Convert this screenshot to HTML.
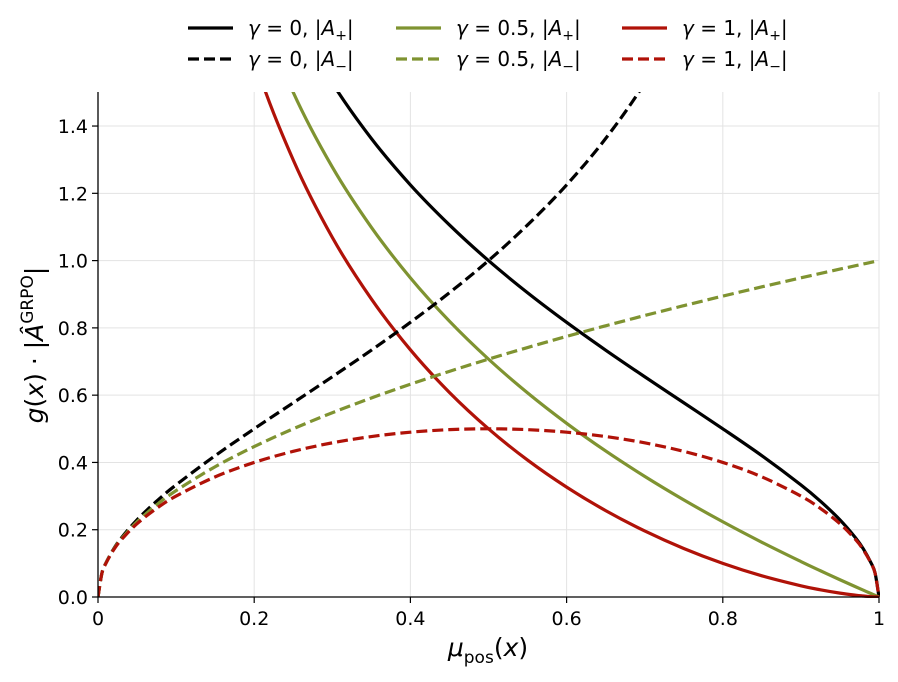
<!DOCTYPE html>
<html><head><meta charset="utf-8"><style>
body{margin:0;background:#fff}
svg{font-family:"DejaVu Sans","Liberation Sans",sans-serif}
</style></head><body>
<svg id="chart" width="898" height="677" viewBox="0 0 898 677" xmlns="http://www.w3.org/2000/svg">
<defs><clipPath id="clip"><rect x="98" y="92" width="782" height="506"/></clipPath></defs>
<g id="grid"></g>
<g id="series" clip-path="url(#clip)"></g>
<g id="axes"></g>
<g id="legend"></g>
<text x="488" y="656" text-anchor="middle" font-size="25"><tspan font-style="italic">μ</tspan><tspan font-size="17" dy="7">pos</tspan><tspan dy="-7">(</tspan><tspan font-style="italic">x</tspan>)</text>
<text transform="translate(43,345) rotate(-90)" text-anchor="middle" font-size="25"><tspan font-style="italic">g</tspan>(<tspan font-style="italic">x</tspan>) · |<tspan font-style="italic">Â</tspan><tspan font-size="17" dy="-10">GRPO</tspan><tspan dy="10">|</tspan></text>
</svg>
<script>
const xs=[0,0.005,0.01,0.02,0.03,0.05,0.075,0.1,0.15,0.2,0.25,0.3,0.35,0.4,0.45,0.5,0.55,0.6,0.65,0.7,0.75,0.8,0.85,0.9,0.925,0.95,0.97,0.98,0.99,0.995,1];
const g0Pos=[null,14.1,9.95,7.0,5.69,4.36,3.51,3.0,2.381,2.0,1.732,1.528,1.363,1.225,1.106,1,0.9045,0.8165,0.7338,0.6547,0.5774,0.5,0.4201,0.3333,0.2847,0.2294,0.1759,0.1429,0.1005,0.0709,0];
const g0Neg=[0,0.0709,0.1005,0.1429,0.1759,0.2294,0.2847,0.3333,0.4201,0.5,0.5774,0.6547,0.7338,0.8165,0.9045,1,1.106,1.225,1.363,1.528,1.732,2,2.381,3,3.51,4.36,5.69,7,9.95,14.1,null];
const g05Pos=[null,14.07,9.9,6.93,5.6,4.25,3.38,2.846,2.195,1.789,1.5,1.278,1.099,0.9487,0.8199,0.7071,0.6068,0.5164,0.4341,0.3586,0.2887,0.2236,0.1627,0.1054,0.078,0.0513,0.0305,0.0202,0.01005,0.005,0];
const g05Neg=[0,0.0707,0.1,0.1414,0.1732,0.2236,0.2739,0.3162,0.3873,0.4472,0.5,0.5477,0.5916,0.6325,0.6708,0.7071,0.7416,0.7746,0.8062,0.8367,0.866,0.8944,0.922,0.9487,0.9618,0.9747,0.9849,0.9899,0.995,0.9975,1];
const g1Pos=[null,14.03,9.85,6.86,5.52,4.14,3.25,2.7,2.024,1.6,1.299,1.069,0.886,0.7348,0.608,0.5,0.407,0.3266,0.2568,0.1964,0.1443,0.1,0.063,0.0333,0.0214,0.0115,0.0053,0.0029,0.001,0.00035,0];
const g1Neg=[0,0.0705,0.0995,0.14,0.1706,0.2179,0.2634,0.3,0.3571,0.4,0.433,0.4583,0.477,0.4899,0.4975,0.5,0.4975,0.4899,0.477,0.4583,0.433,0.4,0.3571,0.3,0.2634,0.2179,0.1706,0.14,0.0995,0.0705,0];
const xTicks=[0,0.2,0.4,0.6,0.8,1];
const xTickLabels=["0","0.2","0.4","0.6","0.8","1"];
const yTicks=[0,0.2,0.4,0.6,0.8,1.0,1.2,1.4];
const yTickLabels=["0.0","0.2","0.4","0.6","0.8","1.0","1.2","1.4"];
const gammaLabels=["0","0.5","1","0","0.5","1"];
const signLabels=["+","+","+","−","−","−"];

const NS="http://www.w3.org/2000/svg";
const X=v=>98+v*781, Y=v=>597-v*336.4;
function mk(p,t,a){const e=document.createElementNS(NS,t);for(const k in a)e.setAttribute(k,a[k]);p.appendChild(e);return e;}
const grid=document.getElementById('grid'),axes=document.getElementById('axes'),ser=document.getElementById('series'),leg=document.getElementById('legend');
xTicks.forEach((t,i)=>{
  const l=mk(grid,'line',{x1:X(t),x2:X(t),y1:92,y2:597,stroke:'#e3e3e3','stroke-width':1});
  
  
  const tk=mk(axes,'line',{x1:X(t),x2:X(t),y1:597,y2:603,stroke:'#000','stroke-width':1.2});
  
  
  const tx=mk(axes,'text',{x:X(t),y:625,'text-anchor':'middle','font-size':19});
  tx.textContent=xTickLabels[i];
  
  
});
yTicks.forEach((t,i)=>{
  const l=mk(grid,'line',{x1:98,x2:879,y1:Y(t),y2:Y(t),stroke:'#e3e3e3','stroke-width':1});
  
  
  const tk=mk(axes,'line',{x1:92,x2:98,y1:Y(t),y2:Y(t),stroke:'#000','stroke-width':1.2});
  
  
  const tx=mk(axes,'text',{x:88,y:Y(t)+7,'text-anchor':'end','font-size':19});
  tx.textContent=yTickLabels[i];
  
  
});
const ys=mk(axes,'line',{x1:98,x2:98,y1:92,y2:597,stroke:'#000','stroke-width':1.3});


const xsL=mk(axes,'line',{x1:98,x2:879,y1:597,y2:597,stroke:'#000','stroke-width':1.3});



function smooth(pts){
  let d='M'+pts[0][0].toFixed(2)+' '+pts[0][1].toFixed(2);
  for(let i=0;i<pts.length-1;i++){
    const p0=pts[Math.max(0,i-1)],p1=pts[i],p2=pts[i+1],p3=pts[Math.min(pts.length-1,i+2)];
    const c1=[p1[0]+(p2[0]-p0[0])/6,p1[1]+(p2[1]-p0[1])/6];
    const c2=[p2[0]-(p3[0]-p1[0])/6,p2[1]-(p3[1]-p1[1])/6];
    d+='C'+c1[0].toFixed(2)+' '+c1[1].toFixed(2)+' '+c2[0].toFixed(2)+' '+c2[1].toFixed(2)+' '+p2[0].toFixed(2)+' '+p2[1].toFixed(2);
  }
  return d;
}
const series=[[g0Pos,'#000',false],[g05Pos,'#7f9331',false],[g1Pos,'#b01208',false],[g0Neg,'#000',true],[g05Neg,'#7f9331',true],[g1Neg,'#b01208',true]];
series.forEach((s,si)=>{
  const pts=[];
  s[0].forEach((v,i)=>{
    if(v===null)return;
    if(v>3.2)return;
    pts.push([X(xs[i]),Y(v)]);
  });
  const p=mk(ser,'path',{d:smooth(pts),fill:'none',stroke:s[1],'stroke-width':3.2,'stroke-linejoin':'round'});
  if(s[2])p.setAttribute('stroke-dasharray','11 5');
  
  
});
const lx=[188,396,622],ly=[28,59];
series.forEach((s,si)=>{
  const c=si%3,r=Math.floor(si/3);
  const l=mk(leg,'line',{x1:lx[c],x2:lx[c]+45,y1:ly[r],y2:ly[r],stroke:s[1],'stroke-width':3.2});
  if(s[2])l.setAttribute('stroke-dasharray','11 5');
  
  
  const t=mk(leg,'text',{x:lx[c]+60,y:ly[r]+7,'font-size':20});
  t.innerHTML='<tspan font-style="italic">γ</tspan> = '+gammaLabels[si]+', |<tspan font-style="italic">A</tspan><tspan font-size="14" dy="5">'+signLabels[si]+'</tspan><tspan dy="-5">|</tspan>';
  
  
});
</script>
</body></html>
